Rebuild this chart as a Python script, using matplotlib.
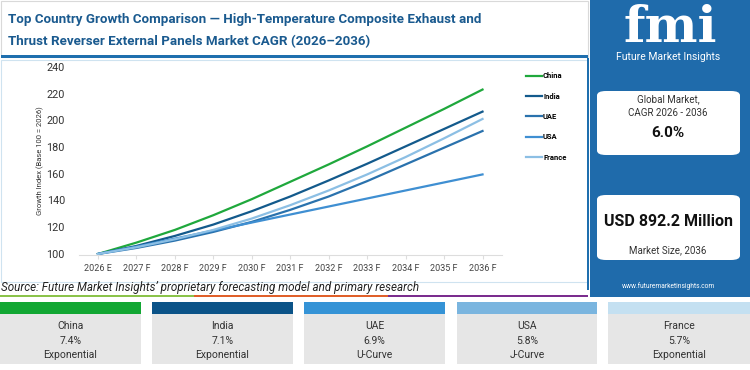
import matplotlib.pyplot as plt
from matplotlib.patches import Rectangle, FancyBboxPatch

# Data
years = ['2026 E', '2027 F', '2028 F', '2029 F', '2030 F', '2031 F',
         '2032 F', '2033 F', '2034 F', '2035 F', '2036 F']
china = [100, 108.5, 118, 129, 141, 154, 167, 180.5, 194.5, 208.5, 223]
india = [100, 106, 113.5, 122, 132, 143, 155, 167.5, 180.5, 193.5, 206.5]
uae = [100, 104.5, 110, 116.5, 124, 133, 143, 154.5, 167, 179.5, 192]
usa = [100, 105.5, 111.5, 117.5, 123.5, 129.5, 135.5, 141.5, 147.5, 153.5, 159.5]
france = [100, 105, 111, 118, 126.5, 136.5, 147.5, 159.5, 172.5, 186.5, 201]

countries = ['China', 'India', 'UAE', 'USA', 'France']
cagr = ['7.4%', '7.1%', '6.9%', '5.8%', '5.7%']
curve = ['Exponential', 'Exponential', 'U-Curve', 'J-Curve', 'Exponential']
line_colors = ['#1fa83c', '#135a8c', '#2a72ad', '#3f8fd2', '#8cbfe4']
card_colors = ['#12a733', '#0b5388', '#3593d6', '#7ab5df', '#c4e0f1']

W, H = 750, 370
fig = plt.figure(figsize=(7.5, 3.7), dpi=100)
fig.patch.set_facecolor('white')
plt.rcParams['font.family'] = ['Roboto', 'DejaVu Sans']


def fx(x):
    return x / W


def fy(y):
    return 1 - y / H


def box(x0, y0, x1, y1, **kw):
    fig.patches.append(Rectangle((fx(x0), fy(y1)), fx(x1 - x0), (y1 - y0) / H,
                                 transform=fig.transFigure, **kw))


# title box
box(1, 1, 588, 57, facecolor='white', edgecolor='#d9d9d9', lw=0.8)
box(1, 55, 588, 58, facecolor='#1f6fae', edgecolor='none')
fig.text(fx(8), fy(20), 'Top Country Growth Comparison \u2014 High-Temperature Composite Exhaust and',
         fontsize=9.6, fontweight='bold', color='#1a5a8f', va='center')
fig.text(fx(8), fy(42), 'Thrust Reverser External Panels Market CAGR (2026\u20132036)',
         fontsize=9.6, fontweight='bold', color='#1a5a8f', va='center')

# chart box
box(1, 60, 588, 282, facecolor='white', edgecolor='#cfe3f0', lw=0.8)
box(586.5, 58, 588.5, 290, facecolor='#1f6fae', edgecolor='none')

# main axes
ax = fig.add_axes([0.105, 0.31, 0.564, 0.513])
ax.set_zorder(5)
ax.patch.set_alpha(0)
x = list(range(len(years)))
series = [china, india, uae, usa, france]
for name, vals, c in zip(countries, series, line_colors):
    ax.plot(x, vals, color=c, lw=1.6, label=name)
ax.set_xlim(-0.5, 10.5)
ax.set_ylim(99, 241)
ax.set_yticks(range(100, 241, 20))
ax.set_xticks(x)
ax.set_xticklabels(years)
ax.tick_params(axis='x', labelsize=6.5, colors='#444444', length=3, color='#dddddd')
ax.tick_params(axis='y', labelsize=7.8, colors='#333333', length=0, pad=10)
for s in ['top', 'right', 'left']:
    ax.spines[s].set_visible(False)
ax.spines['bottom'].set_color('#dddddd')
ax.set_ylabel('Growth Index (Base 100 = 2026)', fontsize=5.5, color='#333333', labelpad=2)

leg = ax.legend(loc='upper left', bbox_to_anchor=(1.04, 1.0), frameon=False,
                handlelength=2.2, handletextpad=0.1, labelspacing=1.75,
                prop={'size': 5.5, 'weight': 'bold'})

# source + colored rule
fig.text(fx(1), fy(287), "Source: Future Market Insights\u2019 proprietary forecasting model and primary research",
         fontsize=8.4, style='italic', color='#222222', va='center')
box(0, 294.5, 194, 296.5, facecolor='#8bc34a', edgecolor='none')
box(194, 294.5, 388, 296.5, facecolor='#e0602a', edgecolor='none')
box(388, 294.5, 588, 296.5, facecolor='#7b2d8e', edgecolor='none')

# right panel
box(590, 0, 750, 297, facecolor='#1f6bab', edgecolor='none')
fig.text(fx(670), fy(28), 'fmi', fontsize=36, fontweight='bold', color='white',
         ha='center', va='center', family='DejaVu Serif')
fig.text(fx(668), fy(57), 'Future Market Insights', fontsize=7.5, color='white',
         ha='center', va='center')
for y0, y1 in [(91, 155), (195, 260)]:
    fig.patches.append(FancyBboxPatch((fx(597), fy(y1)), fx(143), (y1 - y0) / H,
                                      boxstyle='round,pad=0,rounding_size=0.012',
                                      transform=fig.transFigure, facecolor='white',
                                      edgecolor='none'))
fig.text(fx(668), fy(99), 'Global Market,', fontsize=7, color='#333333', ha='center', va='center')
fig.text(fx(668), fy(113), 'CAGR 2026 - 2036', fontsize=7, color='#333333', ha='center', va='center')
fig.text(fx(668), fy(133), '6.0%', fontsize=11, fontweight='bold', color='#111111', ha='center', va='center')
fig.text(fx(668), fy(221), 'USD 892.2 Million', fontsize=11.5, fontweight='bold', color='#111111',
         ha='center', va='center')
fig.text(fx(668), fy(250), 'Market Size, 2036', fontsize=7, color='#333333', ha='center', va='center')
fig.text(fx(668), fy(286), 'www.futuremarketinsights.com', fontsize=4.8, color='white',
         ha='center', va='center')

# bottom cards
card_x = [(0, 141), (152, 293), (304, 445), (457, 597), (608, 750)]
for (x0, x1), name, pct, cv, c in zip(card_x, countries, cagr, curve, card_colors):
    box(x0, 302, x1, 314, facecolor=c, edgecolor='none')
    box(x0, 314, x1, 364, facecolor='#e6e6e6', edgecolor='none')
    cx = (x0 + x1) / 2
    fig.text(fx(cx), fy(326), name, fontsize=7.5, color='#333333', ha='center', va='center')
    fig.text(fx(cx), fy(340.5), pct, fontsize=7.5, color='#333333', ha='center', va='center')
    fig.text(fx(cx), fy(355), cv, fontsize=7.5, color='#333333', ha='center', va='center')

fig.savefig('out.png', dpi=100)
